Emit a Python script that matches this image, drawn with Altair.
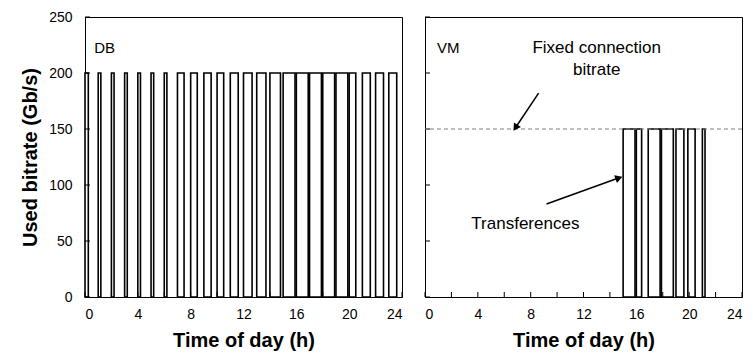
import math
import altair as alt
import pandas as pd

# ---- data ----
x_ticks = list(range(0, 25, 2))
y_ticks = [0, 50, 100, 150, 200, 250]

db_start = [0, 1, 2, 3, 4, 5, 6, 7, 8, 9, 10, 11, 12, 13, 14, 15, 16, 17, 18, 19, 20, 21, 22, 23]
db_end = [0.25, 1.2, 2.2, 3.2, 4.2, 5.2, 6.2, 7.5, 8.5, 9.55, 10.5, 11.6, 12.65, 13.7, 14.8, 15.9,
          16.9, 17.9, 18.9, 19.9, 20.5, 21.6, 22.6, 23.6]
db_level = 200

vm_start = [15.0, 16.0, 16.9, 17.9, 19.0, 19.9, 21.0]
vm_end = [15.9, 16.4, 17.8, 18.8, 19.6, 20.45, 21.2]
vm_level = 150

fixed_bitrate = 150

label_text = ["DB", "VM"]
label_x = [0.7, 0.9]
ann_text = ["Fixed connection", "bitrate", "Transferences"]
ann_x = [13.0, 13.0, 7.6]
ann_y = [222, 203, 65]

arrow1 = {"x": [8.6, 6.9], "y": [182, 152]}
arrow2 = {"x": [9.2, 14.6], "y": [83, 106]}

W, H = 317, 280
FONT = "Liberation Sans"

x_scale = alt.Scale(domain=[0, 24], nice=False, zero=False)
y_scale = alt.Scale(domain=[0, 250], nice=False)


def y_enc(field, show):
    if show:
        ax = alt.Axis(values=y_ticks, title="Used bitrate (Gb/s)", ticks=False, grid=False,
                      labelPadding=13, titlePadding=8)
    else:
        ax = alt.Axis(values=y_ticks, title=None, labels=False, ticks=False, grid=False)
    return alt.Y(f"{field}:Q", scale=y_scale, axis=ax)


def panel(starts, ends, level, name, lx, show_y, left):
    df = pd.DataFrame({"x": starts, "x2": ends, "y": [0] * len(starts), "y2": [level] * len(starts)})
    pulses = alt.Chart(df).mark_rect(fill="white", stroke="black", strokeWidth=1.6).encode(
        x=alt.X("x:Q", scale=x_scale,
                axis=alt.Axis(values=x_ticks, title="Time of day  (h)" if left else "Time of day (h)",
                              ticks=False, grid=False, labelPadding=10, titlePadding=9)),
        x2="x2:Q",
        y=y_enc("y", show_y),
        y2="y2:Q",
    )
    xt = alt.Chart(pd.DataFrame({"t": x_ticks})).mark_rule(color="black").encode(
        x=alt.X("t:Q", scale=x_scale), y=alt.value(H), y2=alt.value(H - 5))
    yt = alt.Chart(pd.DataFrame({"t": y_ticks})).mark_rule(color="black").encode(
        y=alt.Y("t:Q", scale=y_scale), x=alt.value(0), x2=alt.value(5))
    lab = alt.Chart(pd.DataFrame({"t": [name], "x": [lx], "y": [222]})).mark_text(
        font=FONT, fontSize=15, align="left", baseline="middle", color="black").encode(
        x=alt.X("x:Q", scale=x_scale), y=alt.Y("y:Q", scale=y_scale), text="t:N")
    return [pulses, xt, yt, lab]


left_layers = panel(db_start, db_end, db_level, label_text[0], label_x[0], True, True)
right_layers = panel(vm_start, vm_end, vm_level, label_text[1], label_x[1], False, False)

dash = alt.Chart(pd.DataFrame({"y": [fixed_bitrate]})).mark_rule(
    color="#808080", strokeDash=[4, 3], strokeWidth=1).encode(y=alt.Y("y:Q", scale=y_scale))

ann = alt.Chart(pd.DataFrame({"t": ann_text, "x": ann_x, "y": ann_y})).mark_text(
    font=FONT, fontSize=17, align="center", baseline="middle", color="black").encode(
    x=alt.X("x:Q", scale=x_scale), y=alt.Y("y:Q", scale=y_scale), text="t:N")

px_per_x = W / 24.0
px_per_y = H / 250.0


def arrow(a):
    df = pd.DataFrame({"x": a["x"], "y": a["y"], "o": [0, 1]})
    line = alt.Chart(df).mark_line(color="black", strokeWidth=1.5).encode(
        x=alt.X("x:Q", scale=x_scale), y=alt.Y("y:Q", scale=y_scale), order="o:O")
    dx = (a["x"][1] - a["x"][0]) * px_per_x
    dy = -(a["y"][1] - a["y"][0]) * px_per_y
    ang = math.degrees(math.atan2(dx, -dy)) % 360
    head = alt.Chart(df.iloc[[1]]).mark_point(shape="triangle", filled=True, color="black",
                                              size=70, angle=ang, opacity=1).encode(
        x=alt.X("x:Q", scale=x_scale), y=alt.Y("y:Q", scale=y_scale))
    return [line, head]


left = alt.layer(*left_layers).properties(width=W, height=H)
right = alt.layer(*right_layers, dash, ann, *arrow(arrow1), *arrow(arrow2)).properties(width=W, height=H)

chart = alt.hconcat(left, right, spacing=23, bounds="flush").properties(
    padding={"left": 20, "top": 9, "right": 1, "bottom": 3},
).configure_view(stroke="black", strokeWidth=1).configure_axis(
    domainColor="black", labelColor="black", labelFont=FONT, labelFontSize=14,
    titleFont=FONT, titleFontSize=20, titleFontWeight="bold", titleColor="black",
).configure_axisX(labelAngle=0)

chart.save("out.html", embed_options={"renderer": "svg", "actions": False})
